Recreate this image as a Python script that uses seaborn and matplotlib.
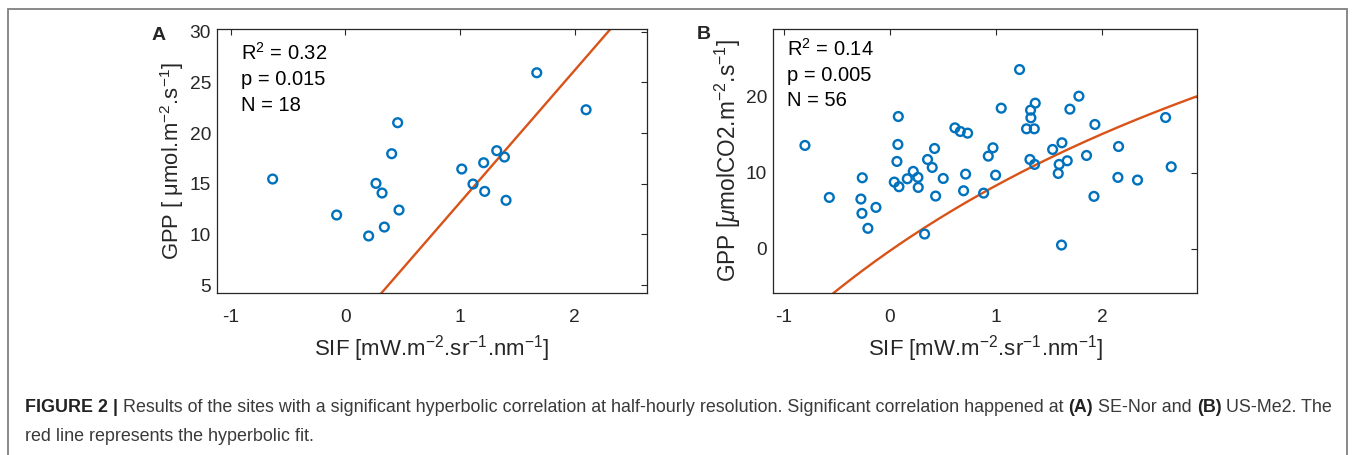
import numpy as np
import matplotlib
matplotlib.use("Agg")
import matplotlib.pyplot as plt
from matplotlib.patches import Rectangle
import seaborn as sns

# Panel A (SE-Nor)
sif_a = [-0.634, -0.076, 0.203, 0.340, 0.267, 0.320, 0.404, 0.456, 0.468,
         1.015, 1.113, 1.206, 1.215, 1.320, 1.387, 1.401, 1.669, 2.099]
gpp_a = [15.46, 11.91, 9.84, 10.72, 15.03, 14.08, 17.96, 21.02, 12.40,
         16.45, 14.97, 17.07, 14.24, 18.26, 17.63, 13.36, 25.95, 22.30]
fit_a = (13.05, 0.10)  # slope, intercept

# Panel B (US-Me2)
sif_b = [-0.802, -0.572, -0.261, -0.274, -0.264, -0.208, -0.132, 0.041, 0.066, 0.079,
         0.075, 0.085, 0.164, 0.220, 0.264, 0.267, 0.327, 0.355, 0.399, 0.421,
         0.431, 0.503, 0.613, 0.664, 0.733, 0.695, 0.714, 0.884, 0.928, 0.972,
         0.997, 1.050, 1.223, 1.289, 1.327, 1.330, 1.371, 1.362, 1.321, 1.365,
         1.535, 1.623, 1.588, 1.597, 1.673, 1.698, 1.783, 1.619, 1.855, 1.925,
         1.934, 2.157, 2.151, 2.336, 2.601, 2.654]
gpp_b = [13.60, 6.75, 9.34, 6.54, 4.65, 2.68, 5.44, 8.77, 11.49, 17.41,
         13.73, 8.16, 9.21, 10.18, 9.39, 8.07, 1.93, 11.75, 10.70, 13.20,
         6.93, 9.25, 15.92, 15.44, 15.22, 7.63, 9.82, 7.32, 12.19, 13.29,
         9.69, 18.51, 23.60, 15.79, 18.25, 17.24, 19.17, 15.79, 11.75, 11.10,
         13.07, 13.95, 9.91, 11.10, 11.58, 18.38, 20.09, 0.48, 12.28, 6.89,
         16.36, 13.46, 9.39, 9.04, 17.28, 10.79]
fit_b = (73.09, 553.7, 7.547)  # y = A - B / (x + C)

stats_a = ["R$^2$ = 0.32", "p = 0.015", "N = 18"]
stats_b = ["R$^2$ = 0.14", "p = 0.005", "N = 56"]

xlabel = "SIF [mW.m$^{-2}$.sr$^{-1}$.nm$^{-1}$]"
ylabel_a = "GPP [ \u03bcmol.m$^{-2}$.s$^{-1}$]"
ylabel_b = "GPP [$\\mu$molCO2.m$^{-2}$.s$^{-1}$]"

caption_1 = [("FIGURE 2 | ", True),
             ("Results of the sites with a significant hyperbolic correlation at half-hourly resolution. "
              "Significant correlation happened at ", False),
             ("(A)", True), (" SE-Nor and ", False), ("(B)", True), (" US-Me2. The", False)]
caption_2 = "red line represents the hyperbolic fit."

sns.set_style("white")
plt.rcParams["font.family"] = ["Liberation Sans", "DejaVu Sans"]
plt.rcParams["mathtext.fontset"] = "custom"
plt.rcParams["mathtext.rm"] = "Liberation Sans"
plt.rcParams["mathtext.it"] = "Liberation Sans:italic"
plt.rcParams["axes.unicode_minus"] = False

blue = "#0072BD"
red = "#D95319"
axcol = "#262626"

fig = plt.figure(figsize=(13.57, 4.55), dpi=100)
ax_a = fig.add_axes([0.1601, 0.3567, 0.3165, 0.5789])
ax_b = fig.add_axes([0.5699, 0.3567, 0.3124, 0.5789])


def style(ax, xlim, ylim, yticks):
    ax.set_xlim(*xlim)
    ax.set_ylim(*ylim)
    ax.set_xticks([-1, 0, 1, 2])
    ax.set_yticks(yticks)
    ax.tick_params(direction="in", length=4, width=0.8, top=True, right=True,
                   labelsize=13.8, colors=axcol)
    ax.tick_params(axis="x", pad=11.5)
    ax.tick_params(axis="y", pad=4.5)
    for s in ax.spines.values():
        s.set_color(axcol)
        s.set_linewidth(0.9)
    ax.set_xlabel(xlabel, fontsize=16, color=axcol, labelpad=5)


# Panel A
sns.scatterplot(x=sif_a, y=gpp_a, ax=ax_a, marker="o", s=40, fc="none",
                ec=blue, linewidth=1.7, zorder=3)
xa = np.linspace(-1.2, 2.7, 50)
ax_a.plot(xa, fit_a[0] * xa + fit_a[1], color=red, lw=1.7, zorder=2)
style(ax_a, (-1.117, 2.628), (4.24, 30.24), [5, 10, 15, 20, 25, 30])
ax_a.set_ylabel(ylabel_a, fontsize=15.8, color=axcol, labelpad=2.5)
for t, yy in zip(stats_a, [0.883, 0.789, 0.691]):
    ax_a.text(0.0545, yy, t, transform=ax_a.transAxes, fontsize=14.5, color="black", va="baseline")

# Panel B
sns.scatterplot(x=sif_b, y=gpp_b, ax=ax_b, marker="o", s=40, fc="none",
                ec=blue, linewidth=1.7, zorder=3)
xb = np.linspace(-0.7, 3.0, 200)
ax_b.plot(xb, fit_b[0] - fit_b[1] / (xb + fit_b[2]), color=red, lw=1.7, zorder=2)
style(ax_b, (-1.10, 2.90), (-5.8, 28.9), [0, 10, 20])
ax_b.set_ylabel(ylabel_b, fontsize=16.3, color=axcol, labelpad=2)
for t, yy in zip(stats_b, [0.900, 0.804, 0.709]):
    ax_b.text(0.033, yy, t, transform=ax_b.transAxes, fontsize=14.5, color="black", va="baseline")

fig.text(0.112, 0.912, "A", fontsize=14, fontweight="bold")
fig.text(0.5136, 0.914, "B", fontsize=14, fontweight="bold")

# outer frame
fig.patches.append(Rectangle((8 / 1357, -0.1), 1339 / 1357, 1.1 - 9 / 455,
                             transform=fig.transFigure, fill=False,
                             ec="#808080", lw=1.3))

# caption with bold pieces
fig.canvas.draw()
renderer = fig.canvas.get_renderer()
x = 25 / 1357
y1 = 1 - 412 / 455
for txt, bold in caption_1:
    t = fig.text(x, y1, txt, fontsize=12.9,
                 fontweight="bold" if bold else "normal",
                 color="#222222" if bold else "#3a3a3a", va="baseline")
    bb = t.get_window_extent(renderer=renderer)
    x = fig.transFigure.inverted().transform((bb.x1, bb.y0))[0]
fig.text(25 / 1357, 1 - 441 / 455, caption_2, fontsize=12.9,
         color="#3a3a3a", va="baseline")

fig.savefig("out.png", dpi=100)
